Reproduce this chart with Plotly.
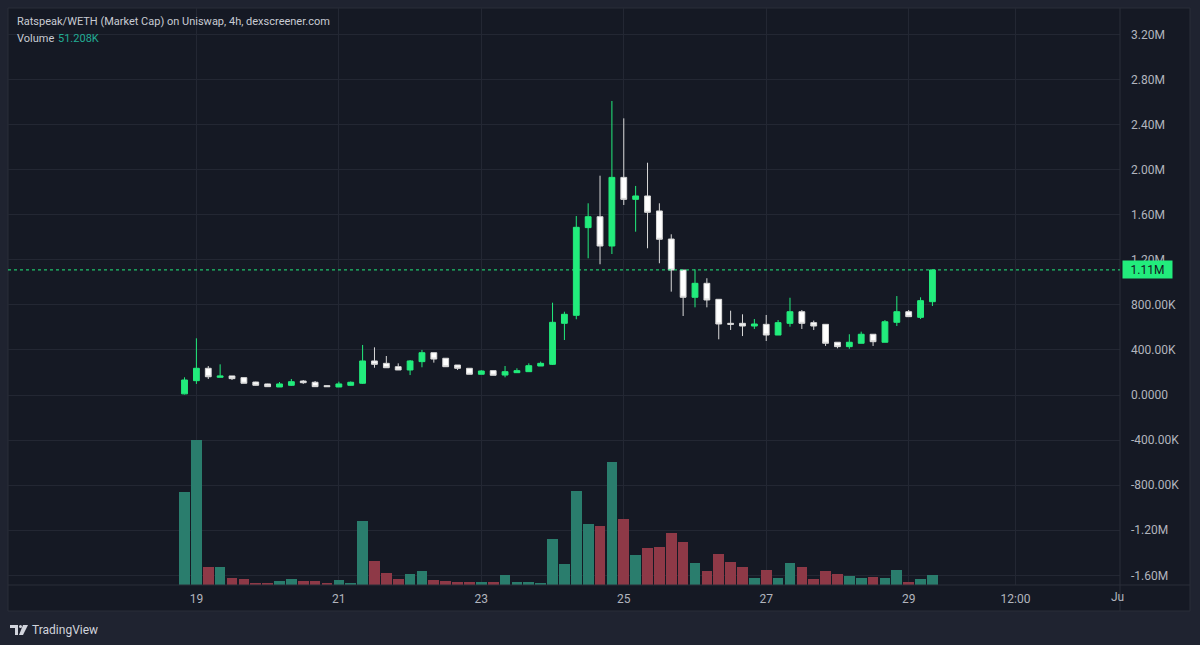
import pandas as pd
import plotly.graph_objects as go

# ---------------- data (market cap in millions, volume in thousands) ----------------
open_m = [0.010, 0.127, 0.237, 0.157, 0.169, 0.154, 0.115, 0.098, 0.071, 0.086, 0.124, 0.113, 0.083, 0.071, 0.086, 0.104,
          0.302, 0.281, 0.251, 0.222, 0.296, 0.375, 0.326, 0.266, 0.237, 0.184, 0.216, 0.177, 0.198, 0.207, 0.257, 0.272,
          0.636, 0.707, 1.485, 1.582, 1.322, 1.931, 1.736, 1.766, 1.633, 1.384, 1.109, 0.867, 0.991, 0.849, 0.636, 0.636,
          0.612, 0.627, 0.532, 0.636, 0.739, 0.642, 0.627, 0.468, 0.429, 0.459, 0.539, 0.468, 0.645, 0.739, 0.689, 0.828]
high_m = [0.157, 0.503, 0.257, 0.272, 0.169, 0.154, 0.118, 0.100, 0.115, 0.142, 0.133, 0.124, 0.086, 0.118, 0.120, 0.444,
          0.423, 0.346, 0.281, 0.310, 0.400, 0.375, 0.326, 0.266, 0.237, 0.220, 0.216, 0.257, 0.237, 0.281, 0.296, 0.819,
          0.739, 1.588, 1.701, 1.946, 2.609, 2.455, 1.855, 2.061, 1.701, 1.426, 1.109, 1.115, 1.036, 0.849, 0.748, 0.716,
          0.674, 0.710, 0.665, 0.863, 0.754, 0.660, 0.627, 0.468, 0.539, 0.562, 0.539, 0.665, 0.878, 0.754, 0.867, 1.110]
low_m = [0.005, 0.098, 0.142, 0.157, 0.133, 0.104, 0.083, 0.071, 0.071, 0.080, 0.098, 0.074, 0.071, 0.071, 0.083, 0.098,
         0.242, 0.242, 0.222, 0.177, 0.246, 0.287, 0.251, 0.222, 0.184, 0.184, 0.175, 0.157, 0.195, 0.207, 0.257, 0.266,
         0.488, 0.672, 1.213, 1.160, 1.251, 1.686, 1.449, 1.302, 1.169, 0.917, 0.701, 0.778, 0.778, 0.494, 0.577, 0.523,
         0.586, 0.479, 0.532, 0.606, 0.586, 0.577, 0.435, 0.414, 0.410, 0.459, 0.435, 0.468, 0.612, 0.695, 0.674, 0.790]
close_m = [0.133, 0.237, 0.162, 0.169, 0.145, 0.104, 0.086, 0.074, 0.098, 0.118, 0.109, 0.074, 0.074, 0.098, 0.113, 0.302,
           0.272, 0.242, 0.222, 0.302, 0.375, 0.319, 0.251, 0.237, 0.184, 0.213, 0.175, 0.207, 0.216, 0.260, 0.281, 0.645,
           0.716, 1.488, 1.582, 1.322, 1.931, 1.736, 1.766, 1.621, 1.382, 1.109, 0.867, 0.991, 0.843, 0.630, 0.627, 0.612,
           0.630, 0.532, 0.642, 0.739, 0.636, 0.612, 0.459, 0.429, 0.468, 0.539, 0.473, 0.650, 0.739, 0.695, 0.837, 1.110]
volume_k = [475, 741, 91, 91, 34, 31, 12, 12, 20, 31, 22, 22, 9, 26, 12, 329,
            121, 61, 31, 56, 70, 26, 20, 17, 17, 17, 17, 50, 17, 17, 12, 236,
            107, 481, 312, 302, 628, 338, 152, 188, 195, 266, 220, 114, 70, 157, 119, 92,
            37, 75, 37, 111, 92, 32, 73, 55, 46, 37, 41, 37, 78, 15, 32, 51.208]

start_time = "2024-05-18 20:00"
price_ticks_m = [-1.6, -1.2, -0.8, -0.4, 0.0, 0.4, 0.8, 1.2, 1.6, 2.0, 2.4, 2.8, 3.2]
price_tick_text = ["-1.60M", "-1.20M", "-800.00K", "-400.00K", "0.0000", "400.00K", "800.00K",
                   "1.20M", "1.60M", "2.00M", "2.40M", "2.80M", "3.20M"]
time_ticks = ["2024-05-19", "2024-05-21", "2024-05-23", "2024-05-25", "2024-05-27", "2024-05-29", "2024-05-30 12:00"]
time_tick_text = ["19", "21", "23", "25", "27", "29", "12:00"]
title_text = "Ratspeak/WETH (Market Cap) on Uniswap, 4h, dexscreener.com"
last_label = "1.11M"
vol_label = "51.208K"

# ---------------- styling ----------------
W, H = 1200, 645
ML, MR, MT, MB = 8, 80, 8, 60
PW, PH = W - ML - MR, H - MT - MB
OUTER = "#1f2330"
PANE = "#151924"
GRID = "#232733"
GREEN = "#22ec7c"
WHITE = "#ffffff"
VOL_UP = "#2a7d6d"
VOL_DN = "#8e3947"
TXT = "#b2b5be"
FONT = "Roboto"


def px2x(px):
    return (px - ML) / PW


def py2y(py):
    return (H - MB - py) / PH


dates = pd.date_range(pd.Timestamp(start_time), periods=len(open_m), freq="4h")
t0 = dates[0]
step = pd.Timedelta(hours=4)
x_range = [t0 - step * 14.87, t0 + step * 78.8]

o = [v * 1e6 for v in open_m]
h = [v * 1e6 for v in high_m]
l = [v * 1e6 for v in low_m]
c = [v * 1e6 for v in close_m]
vol = [v * 1e3 for v in volume_k]
vol_colors = [VOL_UP if cc >= oo else VOL_DN for oo, cc in zip(open_m, close_m)]

fig = go.Figure()
fig.add_trace(go.Bar(
    x=dates, y=vol, yaxis="y2", marker=dict(color=vol_colors, line=dict(width=0)),
    width=4 * 3600 * 1000 * 0.9, hoverinfo="skip", showlegend=False))
fig.add_trace(go.Candlestick(
    x=dates, open=o, high=h, low=l, close=c,
    increasing=dict(line=dict(color=GREEN, width=1), fillcolor=GREEN),
    decreasing=dict(line=dict(color="#d8d8d8", width=1), fillcolor=WHITE),
    whiskerwidth=0, showlegend=False))

vol_per_px = 5.12e3
fig.update_layout(
    width=W, height=H,
    margin=dict(l=ML, r=MR, t=MT, b=MB, pad=0),
    paper_bgcolor=OUTER, plot_bgcolor=PANE,
    font=dict(family=FONT, size=12, color=TXT),
    showlegend=False,
    xaxis=dict(range=x_range, rangeslider=dict(visible=False), type="date",
               tickvals=time_ticks, ticktext=time_tick_text, showgrid=True, gridcolor=GRID,
               gridwidth=1, zeroline=False, showline=False, ticks="", ticklabelstandoff=5,
               tickfont=dict(family=FONT, size=12, color=TXT)),
    yaxis=dict(range=[-1.686e6, 3.434e6], side="right", tickvals=[v * 1e6 for v in price_ticks_m],
               ticktext=price_tick_text, showgrid=True, gridcolor=GRID, gridwidth=1,
               zeroline=False, showline=False, ticks="", ticklabelstandoff=10,
               tickfont=dict(family=FONT, size=12, color=TXT)),
    yaxis2=dict(range=[0, vol_per_px * PH], overlaying="y", visible=False, showgrid=False),
    bargap=0,
)

shapes = [
    # chart pane (including price and time scales)
    dict(type="rect", xref="paper", yref="paper", x0=px2x(8), x1=px2x(1190), y0=py2y(611), y1=py2y(8),
         fillcolor=PANE, line=dict(color="#2a2e39", width=1), layer="below"),
    # scale separators
    dict(type="line", xref="paper", yref="paper", x0=1, x1=1, y0=py2y(611), y1=1,
         line=dict(color="#2a2e39", width=1)),
    dict(type="line", xref="paper", yref="paper", x0=0, x1=px2x(1190), y0=0, y1=0,
         line=dict(color="#2a2e39", width=1)),
    # last price line
    dict(type="line", xref="paper", yref="y", x0=0, x1=1, y0=c[-1], y1=c[-1],
         line=dict(color=GREEN, width=1, dash="dot")),
    # TradingView logo (simplified)
    dict(type="path", xref="paper", yref="paper",
         path="M {} {} L {} {} L {} {} L {} {} L {} {} L {} {} L {} {} L {} {} Z".format(
             px2x(10), py2y(625), px2x(18), py2y(625), px2x(18), py2y(635), px2x(15), py2y(635),
             px2x(15), py2y(628), px2x(10), py2y(628), px2x(10), py2y(625), px2x(10), py2y(625)),
         fillcolor="#d1d4dc", line=dict(width=0)),
    dict(type="path", xref="paper", yref="paper",
         path="M {} {} L {} {} L {} {} L {} {} Z".format(
             px2x(23), py2y(625), px2x(28), py2y(625), px2x(23), py2y(635), px2x(19), py2y(635)),
         fillcolor="#d1d4dc", line=dict(width=0)),
    dict(type="circle", xref="paper", yref="paper", x0=px2x(19), x1=px2x(22), y0=py2y(628), y1=py2y(625),
         fillcolor="#d1d4dc", line=dict(width=0)),
]
fig.update_layout(shapes=shapes)

annotations = [
    dict(text=title_text, xref="paper", yref="paper", x=px2x(15), y=py2y(21), xanchor="left",
         yanchor="middle", showarrow=False, font=dict(family=FONT, size=11, color="#c8cbd3")),
    dict(text="Volume", xref="paper", yref="paper", x=px2x(15), y=py2y(38), xanchor="left",
         yanchor="middle", showarrow=False, font=dict(family=FONT, size=11, color="#c8cbd3")),
    dict(text=vol_label, xref="paper", yref="paper", x=px2x(56), y=py2y(38), xanchor="left",
         yanchor="middle", showarrow=False, font=dict(family=FONT, size=11, color="#22ab94")),
    dict(text=last_label, xref="paper", yref="y", x=px2x(1147), y=c[-1], xanchor="center",
         yanchor="middle", showarrow=False, bgcolor=GREEN, borderpad=2, width=45, height=13,
         font=dict(family=FONT, size=12, color="#131722")),
    dict(text="Ju", xref="paper", yref="paper", x=px2x(1117), y=py2y(597), xanchor="center",
         yanchor="middle", showarrow=False, font=dict(family=FONT, size=12, color=TXT)),
    dict(text="TradingView", xref="paper", yref="paper", x=px2x(30), y=py2y(630), xanchor="left",
         yanchor="middle", showarrow=False, font=dict(family=FONT, size=12, color="#d1d4dc")),
]
fig.update_layout(annotations=annotations)

fig.write_html("out.html")
